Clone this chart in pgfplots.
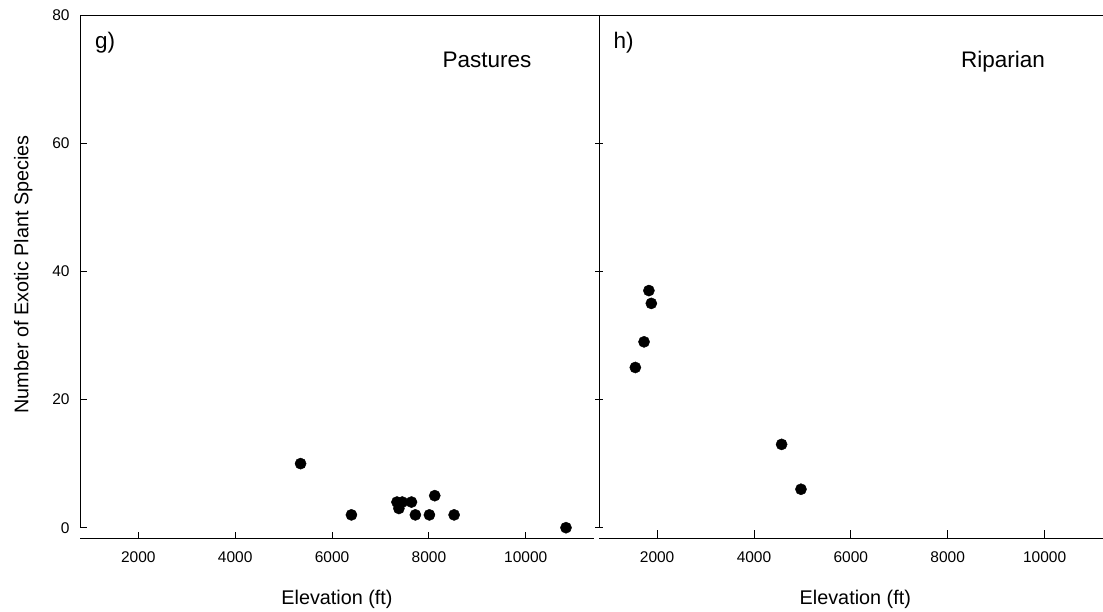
\documentclass[border=0pt]{standalone}
\usepackage{fontspec}
\setmainfont{Liberation Sans}
\usepackage{pgfplots}
\pgfplotsset{compat=1.18}

\begin{document}
\begin{tikzpicture}
\pgfplotsset{
  panel/.style={
    scale only axis, width=513.4pt, height=512.7pt,
    anchor=south west,
    xmin=800, xmax=11400, ymin=0, ymax=80,
    axis x line*=bottom, axis y line*=left,
    axis x line shift=10.3pt,
    scaled x ticks=false, scaled y ticks=false,
    xtick={2000,4000,6000,8000,10000},
    xticklabels={2000,4000,6000,8000,10000},
    ytick={0,20,40,60,80},
    xtick align=inside,
    axis line style={black, line width=0.9pt},
    every tick/.style={black, line width=0.9pt},
    tick label style={font=\fontsize{15.5}{18}\selectfont},
    xticklabel style={anchor=base, inner sep=0pt, yshift=-24pt},
    yticklabel style={anchor=east, inner sep=0pt, xshift=-10.5pt},
    clip=false,
  },
  dots/.style={only marks, mark=*, mark size=5.6pt, black},
}

% g) Pastures
\begin{axis}[panel, at={(80.2pt,83.3pt)},
  ytick align=inside, major tick length=6.5pt,
  yticklabels={0,20,40,60,80}]
\addplot[dots] coordinates {
  (5350,10) (6400,2) (7340,4) (7450,4) (7380,3) (7640,4)
  (7720,2) (8010,2) (8120,5) (8520,2) (10830,0)
};
\end{axis}

% h) Riparian
\begin{axis}[panel, at={(599pt,83.3pt)},
  ytick align=center, major tick length=8pt,
  yticklabels={}]
\addplot[dots] coordinates {
  (1550,25) (1730,29) (1830,37) (1880,35) (4570,13) (4970,6)
};
\end{axis}

\draw[black, line width=0.9pt] (80.2pt,596pt) -- (1103pt,596pt);

\begin{scope}[every node/.style={inner sep=0pt}]
  \node[font=\fontsize{22.5}{26}\selectfont, anchor=base west] at (95pt,562.6pt) {g)};
  \node[font=\fontsize{22.5}{26}\selectfont, anchor=base east] at (531.7pt,543.3pt) {Pastures};
  \node[font=\fontsize{22.5}{26}\selectfont, anchor=base west] at (613.3pt,562.6pt) {h)};
  \node[font=\fontsize{22.5}{26}\selectfont, anchor=base east] at (1045pt,543.3pt) {Riparian};
  \node[font=\fontsize{19.8}{23}\selectfont, anchor=base] at (337pt,6.7pt) {Elevation (ft)};
  \node[font=\fontsize{19.8}{23}\selectfont, anchor=base] at (855.3pt,6.7pt) {Elevation (ft)};
  \node[font=\fontsize{19.8}{23}\selectfont, anchor=base, rotate=90] at (28.3pt,336.5pt) {Number of Exotic Plant Species};
\end{scope}

\pgfresetboundingbox
\useasboundingbox (0,0) rectangle (1103pt,611pt);
\end{tikzpicture}
\end{document}
